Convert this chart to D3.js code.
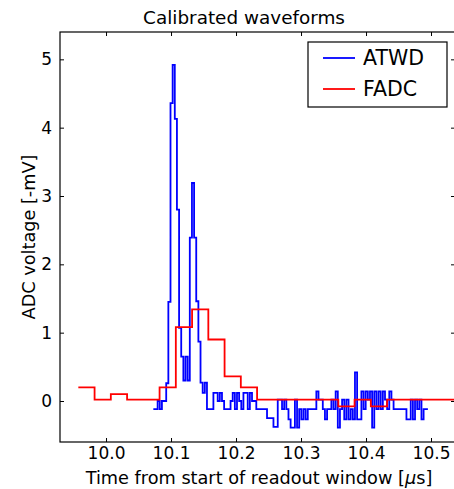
<!DOCTYPE html>
<html>
<head>
<meta charset="utf-8">
<script src="https://cdn.jsdelivr.net/npm/d3@7"></script>
<style>
  body { margin: 0; background: #fff; }
  svg { font-family: "DejaVu Sans", sans-serif; }
</style>
</head>
<body>
<svg id="chart"></svg>
<script>
// ATWD samples, 3.3 ns apart, starting at atwdStart [us]
const atwdStart = 10.0728
const atwdStep = 0.0033
const atwdValues = [
  -0.12, -0.12, 0.0, -0.12, 0.0, 0.0, 0.26, 1.45, 4.36, 4.92,
  4.13, 2.8, 1.07, 0.65, 0.3, 0.65, 0.3, 2.39, 3.19, 2.39,
  1.46, 0.87, 0.27, 0.12, 0.27, -0.12, -0.12, -0.12, 0.12, 0.12,
  0.0, 0.12, 0.0, -0.12, -0.12, -0.12, 0.0, 0.12, -0.12, 0.12,
  0.0, -0.12, 0.12, 0.12, -0.12, 0.12, 0.0, 0.0, -0.12, -0.12,
  -0.12, -0.12, -0.12, -0.25, -0.25, -0.25, -0.38, -0.38, 0.02, 0.02,
  -0.12, 0.02, -0.12, -0.27, -0.39, -0.39, 0.02, -0.39, -0.12, -0.27,
  -0.12, -0.27, -0.12, -0.12, -0.12, -0.12, 0.14, 0.02, 0.02, -0.12,
  -0.27, -0.12, -0.12, 0.02, -0.12, 0.14, -0.39, -0.12, 0.02, -0.27,
  0.02, -0.27, -0.12, -0.27, 0.42, -0.27, -0.27, 0.14, -0.12, 0.14,
  0.02, 0.14, -0.39, 0.14, -0.12, 0.14, -0.12, 0.14, 0.02, -0.12,
  0.14, 0.02, -0.12, -0.12, -0.12, -0.12, -0.12, -0.12, -0.27, -0.27,
  0.02, -0.27, 0.02, -0.12, 0.02, -0.27, -0.12, -0.12
]

// FADC samples, 25 ns apart
const fadcStart = 9.9574
const fadcStep = 0.025
const fadcValues = [
  0.2, 0.02, 0.1, 0.02, 0.02, 0.2, 1.08, 1.34, 0.9, 0.36,
  0.2, 0.02, 0.02, 0.02, 0.02, 0.02, -0.08, 0.02, -0.08, 0.02,
  0.02, 0.02, 0.02, 0.02, 0.02
]

const xTicks = [10.0, 10.1, 10.2, 10.3, 10.4, 10.5]
const yTicks = [0, 1, 2, 3, 4, 5]

const chart = {
  width: 454,
  height: 489,
  left: 60,
  right: 455,
  top: 32,
  bottom: 442
}

const svg = d3.select("#chart")
  .attr("width", chart.width)
  .attr("height", chart.height)

const x = d3.scaleLinear().domain([9.9292, 10.5369]).range([chart.left, chart.right])
const y = d3.scaleLinear().domain([-0.6, 5.4]).range([chart.bottom, chart.top])

// turn samples into step points, last sample gets its own width
function toSteps(start, step, values) {
  const pts = values.map(function (v, i) { return { t: start + i * step, v: v } })
  pts.push({ t: start + values.length * step, v: values[values.length - 1] })
  return pts
}

svg.append("clipPath").attr("id", "plotClip")
  .append("rect")
  .attr("x", chart.left).attr("y", chart.top)
  .attr("width", chart.right - chart.left).attr("height", chart.bottom - chart.top)

const line = d3.line()
  .x(function (d) { return x(d.t) })
  .y(function (d) { return y(d.v) })
  .curve(d3.curveStepAfter)

const plot = svg.append("g").attr("clip-path", "url(#plotClip)")

plot.append("path")
  .datum(toSteps(atwdStart, atwdStep, atwdValues))
  .attr("fill", "none")
  .attr("stroke", "#0000ff")
  .attr("stroke-width", 1.8)
  .attr("d", line)

plot.append("path")
  .datum(toSteps(fadcStart, fadcStep, fadcValues))
  .attr("fill", "none")
  .attr("stroke", "#ff0000")
  .attr("stroke-width", 1.8)
  .attr("d", line)

// axes, ticks pointing inward on all four sides
const tickFont = 17

const xAxis = svg.append("g")
  .attr("transform", "translate(0," + chart.bottom + ")")
  .call(d3.axisBottom(x).tickValues(xTicks).tickFormat(d3.format(".1f"))
    .tickSizeInner(-4).tickSizeOuter(0).tickPadding(5))

svg.append("g")
  .attr("transform", "translate(0," + chart.top + ")")
  .call(d3.axisTop(x).tickValues(xTicks).tickFormat("")
    .tickSizeInner(-4).tickSizeOuter(0))

const yAxis = svg.append("g")
  .attr("transform", "translate(" + chart.left + ",0)")
  .call(d3.axisLeft(y).tickValues(yTicks).tickFormat(d3.format("d"))
    .tickSizeInner(-4).tickSizeOuter(0).tickPadding(8))

svg.append("g")
  .attr("transform", "translate(" + chart.right + ",0)")
  .call(d3.axisRight(y).tickValues(yTicks).tickFormat("")
    .tickSizeInner(-4).tickSizeOuter(0))

svg.selectAll(".domain").remove()
svg.selectAll(".tick line").attr("stroke", "#000")
svg.selectAll(".tick text")
  .attr("font-family", "DejaVu Sans")
  .attr("font-size", tickFont)
  .attr("fill", "#000")

svg.append("rect")
  .attr("x", chart.left).attr("y", chart.top)
  .attr("width", chart.right - chart.left).attr("height", chart.bottom - chart.top)
  .attr("fill", "none").attr("stroke", "#000").attr("stroke-width", 1.2)

// titles
svg.append("text")
  .attr("x", 244).attr("y", 24)
  .attr("text-anchor", "middle")
  .attr("font-size", 18.4)
  .text("Calibrated waveforms")

const xLabel = svg.append("text")
  .attr("x", 259).attr("y", 484)
  .attr("text-anchor", "middle")
  .attr("font-size", 17.7)
xLabel.append("tspan").text("Time from start of readout window [")
xLabel.append("tspan").attr("font-style", "italic").text("\u03bc")
xLabel.append("tspan").text("s]")

svg.append("text")
  .attr("transform", "translate(29," + ((chart.top + chart.bottom) / 2) + ") rotate(-90)")
  .attr("text-anchor", "middle")
  .attr("dominant-baseline", "central")
  .attr("font-size", 17.7)
  .text("ADC voltage [-mV]")

// legend
const legendItems = [
  { name: "ATWD", color: "#0000ff" },
  { name: "FADC", color: "#ff0000" }
]
const legend = svg.append("g").attr("transform", "translate(308,42)")
legend.append("rect")
  .attr("width", 139).attr("height", 65)
  .attr("fill", "#fff").attr("stroke", "#000").attr("stroke-width", 1.2)

const item = legend.selectAll(".item")
  .data(legendItems)
  .enter().append("g")
  .attr("class", "item")
  .attr("transform", function (d, i) { return "translate(0," + (16 + i * 31) + ")" })

item.append("line")
  .attr("x1", 15).attr("x2", 47)
  .attr("stroke", function (d) { return d.color })
  .attr("stroke-width", 1.8)

item.append("text")
  .attr("x", 55)
  .attr("dy", "0.36em")
  .attr("font-size", 20.5)
  .text(function (d) { return d.name })
</script>
</body>
</html>
